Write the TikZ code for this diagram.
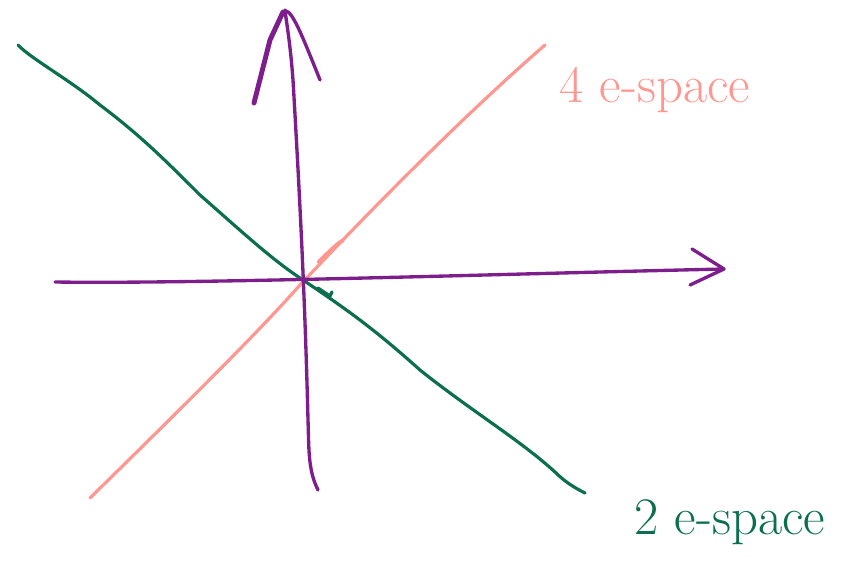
\documentclass[tikz,border=0pt]{standalone}
\usepackage{tikz}
\usetikzlibrary{calc}
\definecolor{axispurple}{HTML}{7E1E8C}
\definecolor{spacepink}{HTML}{FF9690}
\definecolor{spacegreen}{HTML}{0B6E4F}

\begin{document}
\begin{tikzpicture}[
    x=0.02cm, y=-0.02cm,
    axis/.style={draw=axispurple, line width=1.9pt, line cap=round, line join=round},
    pinkline/.style={draw=spacepink, line width=1.8pt, line cap=round, line join=round},
    greenline/.style={draw=spacegreen, line width=1.8pt, line cap=round, line join=round},
    lbl/.style={font=\fontsize{30}{30}\selectfont, inner sep=0pt},
  ]
  \useasboundingbox (0,0) rectangle (851,575);

  % pink space, bottom left to top right
  \coordinate (p0) at (90,498);
  \coordinate (p1) at (545,45);
  \draw[pinkline] (p0) .. controls (200,390) and (260,330) .. (300,285)
        .. controls (380,200) and (470,110) .. (p1);
  \draw[pinkline] (318,262) .. controls (330,250) and (345,236) .. (342,242);

  % green space, top left to bottom right
  \coordinate (g0) at (18,45);
  \coordinate (g1) at (585,493);
  \draw[greenline] (g0) .. controls (30,58) and (70,80) .. (100,105)
        .. controls (140,135) and (165,160) .. (200,195)
        .. controls (240,230) and (270,258) .. (300,278)
        .. controls (340,305) and (370,325) .. (420,370)
        .. controls (470,410) and (520,440) .. (555,472)
        .. controls (565,482) and (575,488) .. (g1);
  \draw[greenline] (318,288) -- (330,296) -- (332,292);

  % horizontal axis
  \coordinate (h0) at (55,282);
  \coordinate (h1) at (724,269);
  \draw[axis] (h0) .. controls (200,284) and (500,274) .. (h1);
  \draw[axis] (692,249) -- (724,269) -- (690,285);

  % vertical axis
  \coordinate (v0) at (318,490);
  \coordinate (v1) at (285,10);
  \draw[axis] (v0) .. controls (308,470) and (309,450) .. (308,420)
        .. controls (305,300) and (300,200) .. (293,80)
        .. controls (290,40) and (286,20) .. (v1);
  \draw[axis, line width=2.8pt] (254,103) -- (270,40) -- (283,12);
  \draw[axis] (283,12) .. controls (290,5) and (300,30) .. (320,80);

  % labels
  \node[lbl, text=spacepink] (fourspace) at (655,90) {4 e-space};
  \node[lbl, text=spacegreen] (twospace) at (730,522) {2 e-space};
\end{tikzpicture}
\end{document}
